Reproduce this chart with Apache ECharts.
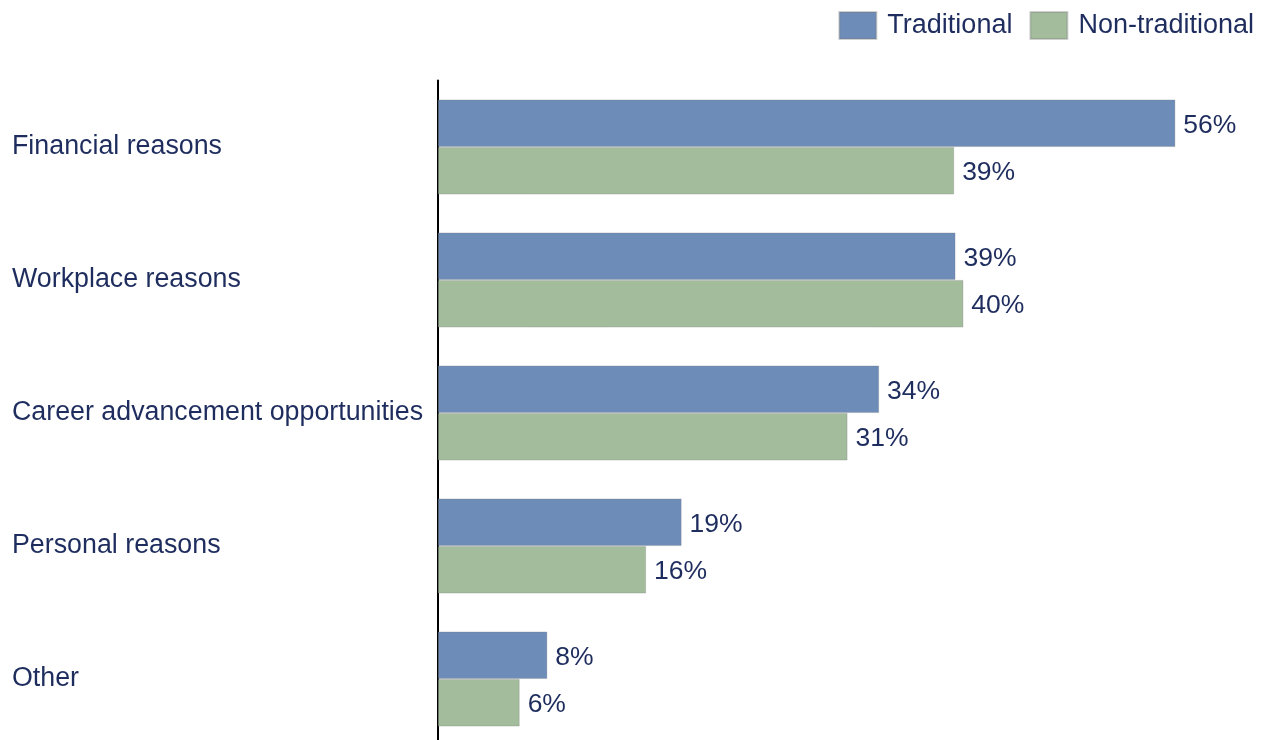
<!DOCTYPE html>
<html>
<head>
<meta charset="utf-8">
<script src="https://cdn.jsdelivr.net/npm/echarts@6/dist/echarts.min.js"></script>
<style>
html,body{margin:0;padding:0;background:#fff;}
#chart{width:1267px;height:740px;}
</style>
</head>
<body>
<div id="chart"></div>
<script>
const categories = ["Financial reasons", "Workplace reasons", "Career advancement opportunities", "Personal reasons", "Other"];
const seriesNames = ["Traditional", "Non-traditional"];
const traditional = [56.0, 39.3, 33.5, 18.5, 8.3];
const nonTraditional = [39.2, 39.9, 31.1, 15.8, 6.2];

const navy = '#1e2d5e';
const font = '"Liberation Sans", Arial, sans-serif';
const chart = echarts.init(document.getElementById('chart'));

function mkSeries(name, data, color) {
  return {
    name: name,
    type: 'bar',
    data: data,
    barGap: '0%',
    barCategoryGap: '28.6%',
    itemStyle: { color: color, borderColor: 'rgba(120,120,120,0.35)', borderWidth: 0.8 },
    label: {
      show: true,
      position: 'right',
      distance: 8,
      offset: [0, 2],
      color: navy,
      fontSize: 26.5,
      fontFamily: font,
      formatter: p => Math.round(p.value) + '%'
    },
    animation: false
  };
}

chart.setOption({
  animation: false,
  legend: {
    data: seriesNames,
    top: 6,
    right: 8,
    itemWidth: 37,
    itemHeight: 27,
    itemGap: 17,
    icon: 'rect',
    textStyle: { color: navy, fontSize: 27, fontFamily: font, padding: [0, 0, 0, 6] }
  },
  grid: { left: 438, top: 80.5, width: 790, height: 665, outerBoundsMode: 'none', containLabel: false },
  xAxis: { type: 'value', min: 0, max: 60, show: false },
  yAxis: {
    type: 'category',
    data: categories,
    inverse: true,
    axisLine: { show: true, lineStyle: { color: '#000', width: 2 } },
    axisTick: { show: false },
    axisLabel: {
      align: 'left',
      margin: 426,
      color: navy,
      fontSize: 26.8,
      fontFamily: font
    }
  },
  series: [
    mkSeries(seriesNames[0], traditional, '#6e8cb8'),
    mkSeries(seriesNames[1], nonTraditional, '#a2bc9c')
  ]
});
</script>
</body>
</html>
